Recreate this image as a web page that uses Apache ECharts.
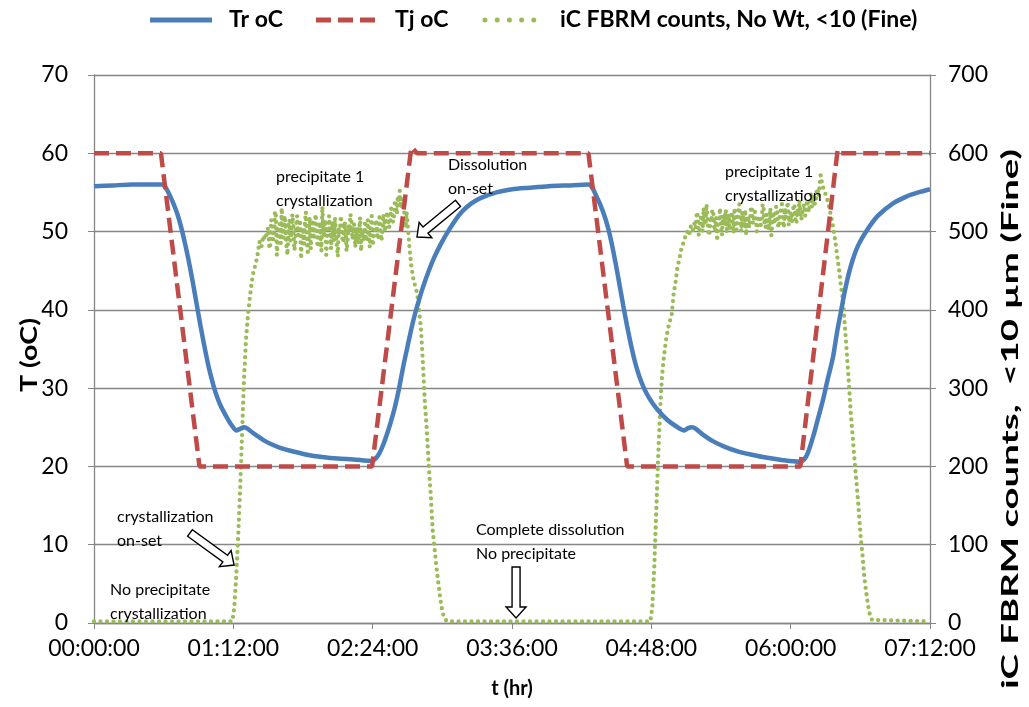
<!DOCTYPE html>
<html>
<head>
<meta charset="utf-8">
<script src="https://cdn.jsdelivr.net/npm/echarts@6/dist/echarts.min.js"></script>
<style>html,body{margin:0;padding:0;background:#fff}#c{width:1029px;height:707px}</style>
</head>
<body>
<div id="c"></div>
<script>
// ---- data (time in minutes) ----
var seriesNames = ['Tr oC', 'Tj oC', 'iC FBRM counts, No Wt, <10 (Fine)'];
var leftAxisTitle = 'T (oC)';
var rightAxisTitle = 'iC FBRM counts,  <10 \u00b5m (Fine)';
var xAxisTitle = 't (hr)';

var trData = [[0,55.8],[10,55.9],[20,56.0],[30,56.0],[35,56.0],[37,55.6],[39,54.7],[41,53.6],[43,52.3],[45,50.6],[47,48.5],[49,46.2],[51,43.6],[53,40.8],[55,38.0],[57,35.4],[59,33.0],[61,31.0],[63,29.3],[65,28.0],[67,27.0],[69,26.1],[71,25.3],[73.5,24.6],[75.5,24.8],[77.5,25.0],[79.5,24.8],[82,24.3],[85,23.8],[88,23.3],[92,22.8],[97,22.3],[103,21.9],[110,21.5],[118,21.2],[126,21.0],[134,20.9],[143.5,20.7],[145.5,21.0],[147.5,21.7],[149.5,22.8],[151.5,24.2],[153.5,25.8],[155.5,27.6],[157.5,29.8],[160,33.0],[162,35.3],[164,37.6],[166,39.6],[168,41.3],[170,42.9],[173,45.0],[176,46.8],[179,48.3],[182.4,49.8],[186,51.2],[190,52.5],[195,53.6],[200,54.3],[208,55.0],[216,55.4],[225,55.6],[235,55.8],[245,55.9],[255.5,56.0],[257.5,55.6],[259.8,54.4],[261.5,53.5],[263.5,52.2],[265.5,50.6],[267.5,48.5],[269.5,46.0],[271.5,43.3],[273.5,40.5],[275.5,37.9],[277.5,35.5],[279.5,33.4],[281.5,31.7],[284,30.1],[287,28.7],[291,27.3],[296,26.0],[301,25.1],[305,24.6],[307,24.9],[309,25.0],[311,24.8],[315,24.0],[320,23.2],[326,22.5],[333,21.9],[340,21.5],[348,21.1],[356,20.8],[364.5,20.6],[367,20.9],[369,21.8],[371.6,23.8],[374,26.0],[376.7,28.5],[379,31.0],[381.9,34.0],[384,37.2],[386,39.8],[388,42.4],[390,44.6],[392.2,46.5],[395,48.3],[399.5,50.2],[405,52.0],[412.9,53.6],[420,54.5],[426,55.0],[432,55.4]];

var tjData = [[0,60],[34.6,60],[54.5,20],[143.7,20],[164,60.8],[167,60],[255.5,60],[275.5,20],[365,20],[384.3,60.5],[386,60],[432,60]];

var fbrmData = [[0,2],[71.5,2],[72.5,20],[73.5,60],[74.5,110],[75.5,170],[76.5,240],[77.5,310],[78.5,360],[79.5,392],[80.5,415],[81.5,435],[82.5,450],[83.5,458],[84.5,470],[85.5,487],[86.5,480],[87.5,495],[88.5,490],[89.5,500],
[90,505],[90.5,482],[91,478],[91.5,515],[92,512],[92.5,490],[93,495],[93.5,526],[94,520],[94.5,470],[95,488],[95.5,505],[96,510],[96.5,485],[97,530],[97.5,500],[98,492],[98.5,520],[99,505],[99.5,480],[100,470],[100.5,512],[101,515],[101.5,488],[102,498],[102.5,522],[103,508],[103.5,476],[104,482],[104.5,510],[105,520],[105.5,495],[106,500],[106.5,515],[107,465],[107.5,498],[108,505],[108.5,484],[109,512],[109.5,525],[110,490],[110.5,470],[111,502],[111.5,518],[112,478],[112.5,500],[113,515],[113.5,490],[114,496],[114.5,522],[115,508],[115.5,480],[116,485],[116.5,512],[117,500],[117.5,475],[118,532],[118.5,505],[119,495],[119.5,515],[120,470],[120.5,490],[121,505],[121.5,520],[122,498],[122.5,478],[123,512],[123.5,495],[124,488],[124.5,518],[125,500],[125.5,482],[126,468],[126.5,505],[127,495],[127.5,520],[128,510],[128.5,486],[129,490],[129.5,512],[130,505],[130.5,475],[131,486],[131.5,508],[132,500],[132.5,522],[133,515],[133.5,490],[134,492],[134.5,510],[135,480],[135.5,498],[136,505],[136.5,485],[137,498],[137.5,518],[138,475],[138.5,495],[139,502],[139.5,488],[140,510],[140.5,492],[141,488],[141.5,515],[142,498],[142.5,480],[143,505],[143.5,520],[144,482],[144.5,496],[145,500],[145.5,515],[146,512],[146.5,490],[147,494],[147.5,518],[148,505],[148.5,488],[149,498],[149.5,522],[150,515],[150.5,500],[151,502],[151.5,525],[152,520],[152.5,505],[153,510],[153.5,530],[154,525],[154.5,512],[155,518],[155.5,540],[156,535],[156.5,522],[157,545],[157.5,538],[158,552],[158.5,530],[159,530],[159.5,545],[160,540],[160.5,515],[161,505],[161.5,525],[162,512],
[163,480],[164,455],[165,440],[166,430],[167,421],[168,400],[169,374],[170,330],[171,280],[172,246],[173,200],[174,165],[175,119],[176,95],[177,70],[178,50],[179,30],[180,15],[181,6],[182.5,2],
[287.5,2],[288.5,20],[289.5,70],[290.5,140],[291.5,210],[292.5,270],[293.5,315],[294.5,340],[295.5,360],[296.5,375],[297.5,385],[298.5,393],[299.5,420],[300.5,435],[301.5,455],[302.5,465],[303.5,478],[304.5,485],[305.5,493],[306.5,500],[307.5,495],[308.5,508],[309.5,502],[310.5,512],
[311,505],[311.5,525],[312,520],[312.5,495],[313,498],[313.5,518],[314,515],[314.5,500],[315,530],[315.5,512],[316,508],[316.5,535],[317,518],[317.5,498],[318,495],[318.5,515],[319,512],[319.5,528],[320,525],[320.5,505],[321,500],[321.5,518],[322,488],[322.5,510],[323,515],[323.5,530],[324,505],[324.5,495],[325,520],[325.5,508],[326,510],[326.5,528],[327,498],[327.5,515],[328,522],[328.5,502],[329,508],[329.5,525],[330,515],[330.5,498],[331,530],[331.5,512],[332,502],[332.5,520],[333,518],[333.5,535],[334,510],[334.5,500],[335,525],[335.5,515],[336,505],[336.5,528],[337,495],[337.5,512],[338,520],[338.5,505],[339,512],[339.5,532],[340,528],[340.5,510],[341,508],[341.5,525],[342,518],[342.5,500],[343,500],[343.5,520],[344,522],[344.5,508],[345,512],[345.5,535],[346,530],[346.5,512],[347,505],[347.5,522],[348,520],[348.5,502],[349,515],[349.5,530],[350,495],[350.5,510],[351,525],[351.5,515],[352,510],[352.5,532],[353,528],[353.5,508],[354,505],[354.5,522],[355,520],[355.5,535],[356,512],[356.5,505],[357,530],[357.5,518],[358,518],[358.5,538],[359,508],[359.5,520],[360,525],[360.5,512],[361,515],[361.5,535],[362,532],[362.5,515],[363,510],[363.5,528],[364,522],[364.5,540],[365,528],[365.5,515],[366,515],[366.5,532],[367,535],[367.5,520],[368,522],[368.5,540],[369,530],[369.5,525],[370,540],[370.5,548],[371,531],[371.5,538],[372,545],[372.5,535],[373,538],[373.5,555],[374,552],[374.5,545],[375,560],[375.5,572],[376,570],[376.5,558],[377,555],
[378,548],[379,540],[380,530],[381,518],[382,505],[383,489],[384,470],[385,451],[386,430],[387,413],[388,380],[389,345],[390,310],[391,270],[392,240],[393,208],[394,180],[395,150],[396,115],[397,90],[398,60],[399,40],[400,22],[401,10],[402,4],[403,2],[432,2]];

// annotations: text lines anchored at (minutes, temperature) of first line's left/middle
var notes = [
  {lines:['precipitate 1','crystallization'], x:94.1, y:57.0},
  {lines:['Dissolution','on-set'], x:182.9, y:58.5},
  {lines:['precipitate 1','crystallization'], x:326.1, y:57.6},
  {lines:['crystallization','on-set'], x:11.9, y:13.5},
  {lines:['No precipitate','crystallization'], x:8.3, y:4.2},
  {lines:['Complete dissolution','No precipitate'], x:197.4, y:11.9}
];
// block arrows: tail -> tip (minutes, temperature)
var arrows = [
  {from:[49.6,11.5], to:[72.4,7.4]},
  {from:[188.1,53.6], to:[166.9,49.3]},
  {from:[218.1,7.15], to:[218.1,0.64]}
];

function fmt(m){
  var h = Math.floor(m/60), mm = Math.round(m%60);
  return (h<10?'0':'')+h+':'+(mm<10?'0':'')+mm+':00';
}

var FONT = 'Lato';
var gridColor = '#868686';
var colors = ['#4A7EBB', '#BE4B48', '#9BBB59'];
var chart = echarts.init(document.getElementById('c'), null, {renderer:'canvas'});
var option = {
  animation:false,
  backgroundColor:'#ffffff',
  textStyle:{fontFamily:FONT},
  grid:{left:94, right:99, top:75, bottom:84},
  xAxis:{
    type:'value', min:0, max:432, interval:72,
    name:xAxisTitle, nameLocation:'middle', nameGap:56,
    nameTextStyle:{fontFamily:FONT, fontWeight:'bold', fontSize:20, color:'#000'},
    axisLine:{lineStyle:{color:gridColor, width:1.3}},
    axisTick:{show:true, length:6, lineStyle:{color:gridColor}},
    axisLabel:{formatter:fmt, fontFamily:FONT, fontSize:23, color:'#000', margin:14},
    splitLine:{show:false}
  },
  yAxis:[
    {type:'value', min:0, max:70, interval:10,
     axisLine:{show:true, lineStyle:{color:gridColor, width:1.3}},
     axisTick:{show:true, length:6, lineStyle:{color:gridColor}},
     axisLabel:{fontFamily:FONT, fontSize:23, color:'#000', margin:26},
     splitLine:{show:true, lineStyle:{color:gridColor, width:1.3}}},
    {type:'value', min:0, max:700, interval:100, position:'right',
     axisLine:{show:true, lineStyle:{color:gridColor, width:1.3}},
     axisTick:{show:true, length:6, lineStyle:{color:gridColor}},
     axisLabel:{fontFamily:FONT, fontSize:23, color:'#000', margin:18},
     splitLine:{show:false}}
  ],
  series:[
    {name:seriesNames[0], type:'line', yAxisIndex:0, data:trData, symbol:'none',
     smooth:0.25,
     lineStyle:{color:colors[0], width:4.5}, z:3},
    {name:seriesNames[1], type:'line', yAxisIndex:0, data:tjData, symbol:'none',
     lineStyle:{color:colors[1], width:4.5, type:[15,7]}, z:4},
    {name:seriesNames[2], type:'line', yAxisIndex:1, data:fbrmData, symbol:'none',
     lineStyle:{color:colors[2], width:4.3, type:[0,6.5], cap:'round'}, z:2}
  ]
};
chart.setOption(option);

function textWidth(t, font){
  var ctx = document.createElement('canvas').getContext('2d');
  ctx.font = font; return ctx.measureText(t).width;
}

function buildGraphics(){
  var els = [];
  // legend
  var lg = [
    {x:150, tx:229, dash:null, cap:'butt'},
    {x:316, tx:395, dash:[15,7], cap:'butt'},
    {x:483, tx:560, dash:[0,12.2], cap:'round'}
  ];
  lg.forEach(function(l, i){
    els.push({type:'line', z:20, shape:{x1:l.x + (i===2?2:0), y1:20, x2:l.x+62, y2:20},
      style:{stroke:colors[i], lineWidth:5, lineDash:l.dash, lineCap:l.cap}});
    els.push({type:'text', z:20, x:l.tx, y:20,
      style:{text:seriesNames[i], fill:'#000', font:'bold 23px Lato', textVerticalAlign:'middle', textAlign:'left'}});
  });
  // rotated axis titles
  var fL = 'bold 22px Lato', wL = textWidth(leftAxisTitle, fL);
  els.push({type:'text', z:20, x:30, y:355, rotation:Math.PI/2, scaleX:74/wL,
    style:{text:leftAxisTitle, fill:'#000', font:fL, textAlign:'center', textVerticalAlign:'middle'}});
  var fR = 'bold 22px Lato', wR = textWidth(rightAxisTitle, fR);
  els.push({type:'text', z:20, x:1011, y:419, rotation:Math.PI/2, scaleX:540/wR,
    style:{text:rightAxisTitle, fill:'#000', font:fR, textAlign:'center', textVerticalAlign:'middle'}});
  // annotations
  notes.forEach(function(n){
    var p = chart.convertToPixel({xAxisIndex:0, yAxisIndex:0}, [n.x, n.y]);
    n.lines.forEach(function(t, i){
      els.push({type:'text', x:p[0], y:p[1] + i*24, z:10,
        style:{text:t, fill:'#000', font:'16px Lato', textVerticalAlign:'middle', textAlign:'left'}});
    });
  });
  arrows.forEach(function(a){
    var s = chart.convertToPixel({xAxisIndex:0, yAxisIndex:0}, a.from);
    var e = chart.convertToPixel({xAxisIndex:0, yAxisIndex:0}, a.to);
    var dx = e[0]-s[0], dy = e[1]-s[1], L = Math.sqrt(dx*dx+dy*dy);
    var ux = dx/L, uy = dy/L, nx = -uy, ny = ux;
    var sw = 4, hw = 10, hl = 11;
    var bx = e[0]-ux*hl, by = e[1]-uy*hl;
    var pts = [
      [s[0]+nx*sw, s[1]+ny*sw],
      [bx+nx*sw, by+ny*sw],
      [bx+nx*hw, by+ny*hw],
      [e[0], e[1]],
      [bx-nx*hw, by-ny*hw],
      [bx-nx*sw, by-ny*sw],
      [s[0]-nx*sw, s[1]-ny*sw]
    ];
    els.push({type:'polygon', z:11, shape:{points:pts},
      style:{fill:'#fff', stroke:'#000', lineWidth:1.4}});
  });
  chart.setOption({graphic:els});
}
buildGraphics();
</script>
</body>
</html>
